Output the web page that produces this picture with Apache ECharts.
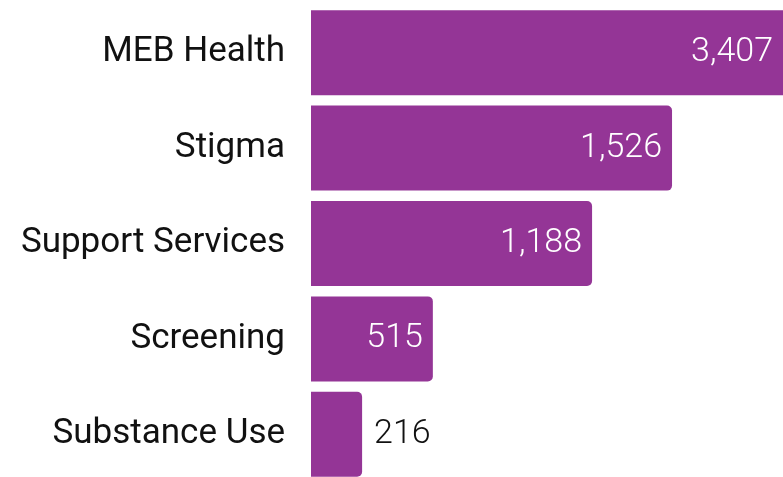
<!DOCTYPE html>
<html>
<head>
<meta charset="utf-8">
<script src="https://cdn.jsdelivr.net/npm/echarts@6/dist/echarts.min.js"></script>
<style>
html,body{margin:0;padding:0;background:#fff;}
#chart{width:783px;height:477px;}
</style>
</head>
<body>
<div id="chart"></div>
<script>
// 数据
var categories = ['MEB Health', 'Stigma', 'Support Services', 'Screening', 'Substance Use'];
var values = [3407, 1526, 1188, 515, 216];
var insideLabel = [true, true, true, true, false];

var barColor = '#943596';
var axisMax = 1995;
var data = [];
for (var i = 0; i < values.length; i++) {
	var item = {
		value: values[i],
		label: insideLabel[i] ? {position: 'insideRight', color: '#fff', distance: 10}
			: {position: 'right', color: '#111', distance: 12}
	};
	// 超出坐标轴被裁掉的柱子不要圆角
	if (values[i] > axisMax) {
		item.itemStyle = {borderRadius: 0};
	}
	data.push(item);
}

var myChart = echarts.init(document.getElementById('chart'));
var option = {
	animation: false,
	grid: {
		left: 311,
		right: 0,
		top: 5,
		height: 477,
		outerBoundsMode: 'none'
	},
	xAxis: {
		type: 'value',
		min: 0,
		max: axisMax,
		show: false
	},
	yAxis: {
		type: 'category',
		data: categories,
		inverse: true,
		axisLine: {show: false},
		axisTick: {show: false},
		axisLabel: {
			margin: 26,
			fontFamily: 'Roboto',
			fontSize: 35,
			color: '#111'
		}
	},
	series: [{
		type: 'bar',
		data: data,
		barWidth: 85,
		itemStyle: {
			color: barColor,
			borderRadius: [0, 5, 5, 0]
		},
		label: {
			show: true,
			fontFamily: 'Roboto',
			fontSize: 34,
			fontWeight: 300,
			formatter: function(p) {
				return p.value.toLocaleString('en-US');
			}
		}
	}]
};
myChart.setOption(option);
</script>
</body>
</html>
